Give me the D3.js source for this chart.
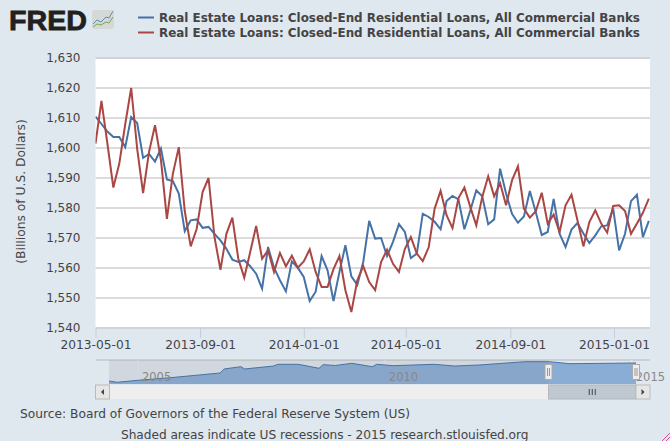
<!DOCTYPE html>
<html>

<head>
    <meta charset="utf-8">
    <style>
        body { margin: 0; background: #dfe7ef; }
        svg { display: block; }
        text { font-family: "DejaVu Sans", sans-serif; fill: #444; }
    </style>
</head>

<body>
    <svg id="container" width="670" height="441">
        <g id="logo"></g>
        <g id="legend"></g>
        <g id="plot"></g>
        <g id="yAxis"></g>
        <g id="xAxis"></g>
        <g id="navigator"></g>
        <g id="notes"></g>
    </svg>
</body>
<script src="https://cdn.jsdelivr.net/npm/d3@7"></script>
<script>
    const seriesName = "Real Estate Loans: Closed-End Residential Loans, All Commercial Banks"

    const blueValues = [
        1610.5, 1608, 1605.5, 1603.7, 1603.7, 1600.3, 1610.3, 1608.3, 1596.7, 1598,
        1595.5, 1599.8, 1589.5, 1589, 1584.8, 1572.3, 1575.9, 1576.2, 1573.4, 1573.7,
        1571.4, 1569.2, 1566.4, 1562.8, 1562, 1562.6, 1560.6, 1558.1, 1553.1, 1567,
        1560.1, 1555.9, 1552.2, 1562.2, 1560.1, 1557, 1549, 1552.1, 1564, 1559.2,
        1549, 1558.7, 1567.6, 1557.2, 1554.4, 1562, 1575.7, 1569.8, 1570, 1564,
        1568.7, 1574.6, 1572, 1563.3, 1564.8, 1578.1, 1577, 1575.4, 1572.9, 1582.3,
        1584, 1582.9, 1572.9, 1579.2, 1585.9, 1583.9, 1574.6, 1576.2, 1593.1, 1584.8,
        1578.1, 1575.1, 1577.2, 1585.7, 1578.6, 1571, 1572, 1583, 1571.4, 1567,
        1572.8, 1575, 1571.5, 1568.3, 1570.9, 1573.9, 1574.2, 1579.8, 1565.9, 1571.4,
        1582.3, 1584.4, 1570.3, 1575.7
    ]
    const redValues = [
        1601.5, 1615.7, 1601.5, 1586.8, 1594.8, 1608, 1620, 1599.8, 1585, 1598.7,
        1607.6, 1596, 1576.4, 1591.4, 1600.3, 1579, 1567.2, 1573, 1585.3, 1590,
        1570.3, 1559.4, 1571.4, 1576.8, 1563.1, 1556.8, 1565.3, 1574, 1563.1, 1565.9,
        1558.7, 1565, 1560.6, 1564.1, 1560.1, 1562.2, 1566.2, 1558.7, 1553.7, 1553.7,
        1559.6, 1564, 1552.6, 1545.3, 1555.9, 1560.6, 1555.3, 1552.6, 1562, 1566.1,
        1561.4, 1558.7, 1566.4, 1570.3, 1564.8, 1562.3, 1566.9, 1579.8, 1585.7, 1577.6,
        1573.3, 1583.3, 1586.8, 1580.3, 1574.2, 1583.7, 1590.6, 1583.9, 1588.3, 1580.9,
        1589.2, 1593.9, 1579.8, 1576.8, 1578.9, 1585.1, 1574.8, 1577.8, 1572, 1580.9,
        1584.4, 1575.9, 1567.2, 1575.3, 1579.2, 1574.8, 1571.8, 1580.7, 1580.9, 1579,
        1571.4, 1574.8, 1578.4, 1583.1
    ]

    const yTicks = [1540, 1550, 1560, 1570, 1580, 1590, 1600, 1610, 1620, 1630]
    const xTicks = ["2013-05-01", "2013-09-01", "2014-01-01", "2014-05-01", "2014-09-01", "2015-01-01"]

    // whole history shown in the navigator under the chart
    const navDates = [
        "2004-06", "2004-08", "2005-01", "2005-09", "2006-04", "2006-09", "2006-10", "2007-02", "2007-03",
        "2007-10", "2007-11", "2008-04", "2008-09", "2008-10", "2009-01", "2009-05", "2009-10", "2009-11",
        "2010-03", "2011-01", "2011-06", "2011-12", "2012-11", "2013-05", "2013-10", "2015-02"
    ]
    const navValues = [
        1127, 1095, 1145, 1210, 1278, 1328, 1428, 1485, 1428,
        1502, 1545, 1545, 1445, 1535, 1515, 1570, 1485, 1545,
        1510, 1545, 1502, 1528, 1610, 1610, 1560, 1578
    ]
    const navYears = ["2005", "2010", "2015"]

    const notes = [
        "Source: Board of Governors of the Federal Reserve System (US)",
        "Shaded areas indicate US recessions - 2015 research.stlouisfed.org"
    ]

    const parseDay = d3.utcParse("%Y-%m-%d")
    const parseMonth = d3.utcParse("%Y-%m")
    const firstDate = parseDay(xTicks[0])
    const weeks = blueValues.map((d, i) => d3.utcDay.offset(firstDate, i * 7))

    const plotLeft = 95.5, plotRight = 650, plotTop = 58, plotBottom = 328

    let x = d3.scaleTime()
        .domain([firstDate, weeks[weeks.length - 1]])
        .range([plotLeft, plotLeft + 5.95 * (weeks.length - 1)])
    let y = d3.scaleLinear().domain([1540, 1630]).range([plotBottom, plotTop])

    let svg = d3.select("#container")
    svg.append("defs").append("clipPath").attr("id", "plotClip")
        .append("rect")
        .attr("x", plotLeft).attr("y", plotTop - 2)
        .attr("width", plotRight - plotLeft).attr("height", plotBottom - plotTop + 4)

    // plot area
    let plot = d3.select("#plot")
    plot.append("rect")
        .attr("x", plotLeft).attr("y", plotTop)
        .attr("width", plotRight - plotLeft).attr("height", plotBottom - plotTop)
        .attr("fill", "#fff")

    plot.selectAll("line.grid")
        .data(yTicks)
        .enter()
        .append("line")
        .attr("class", "grid")
        .attr("x1", plotLeft).attr("x2", plotRight)
        .attr("y1", d => y(d)).attr("y2", d => y(d))
        .attr("stroke", d => (d == 1540 || d == 1630) ? "#d0d3d8" : "#dcdcdc")
        .attr("stroke-width", 2)

    let line = d3.line()
        .x((d, i) => x(weeks[i]))
        .y(d => y(d))

    let lines = plot.append("g").attr("clip-path", "url(#plotClip)")
    lines.append("path").datum(blueValues)
        .attr("d", line).attr("fill", "none")
        .attr("stroke", "#4572a7").attr("stroke-width", 2)
    lines.append("path").datum(redValues)
        .attr("d", line).attr("fill", "none")
        .attr("stroke", "#aa4643").attr("stroke-width", 2)

    // axes
    let yAxis = d3.axisLeft(y)
        .tickValues(yTicks)
        .tickSize(0)
        .tickPadding(15)
        .tickFormat(d3.format(","))
    let yAxisContainer = d3.select("#yAxis")
        .attr("transform", `translate(${plotLeft},0)`)
        .call(yAxis)
    yAxisContainer.select(".domain").remove()
    yAxisContainer.selectAll(".tick text").style("font-size", "12px").attr("dy", "0.33em")

    yAxisContainer.append("text")
        .text("(Billions of U.S. Dollars)")
        .attr("transform", "translate(-70.5,191.5) rotate(-90)")
        .attr("text-anchor", "middle")
        .style("font-size", "12.3px")

    let xAxis = d3.axisBottom(x)
        .tickValues(xTicks.map(parseDay))
        .tickSize(10)
        .tickPadding(2)
        .tickFormat(d3.utcFormat("%Y-%m-%d"))
    let xAxisContainer = d3.select("#xAxis")
        .attr("transform", `translate(0,${plotBottom})`)
        .call(xAxis)
    xAxisContainer.select(".domain").remove()
    xAxisContainer.selectAll("line").attr("stroke", "#c0d0e0")
    xAxisContainer.selectAll("text").style("font-size", "12.2px")

    // legend
    let legend = d3.select("#legend")
    legend.selectAll("g")
        .data(["#4572a7", "#aa4643"])
        .enter()
        .append("g")
        .attr("transform", (d, i) => `translate(138,${17.5 + i * 15})`)
        .each(function (d) {
            let g = d3.select(this)
            g.append("line").attr("x1", 0).attr("x2", 16)
                .attr("stroke", d).attr("stroke-width", 2)
            g.append("text").text(seriesName)
                .attr("x", 21).attr("y", 4.5)
                .style("font-size", "11.93px")
                .style("font-weight", "bold")
        })

    // navigator
    let nav = d3.select("#navigator")
    const navLeft = 109, navRight = 636, navTop = 360, navBottom = 384
    let navX = d3.scaleTime()
        .domain([parseMonth(navDates[0]), parseMonth(navDates[navDates.length - 1])])
        .range([navLeft, navRight])
    let navY = d3.scaleLinear().domain([1052, 1610]).range([navBottom, 361.7])
    const selStart = x(firstDate) + 453

    nav.append("line")
        .attr("x1", plotLeft).attr("x2", plotRight)
        .attr("y1", navTop).attr("y2", navTop)
        .attr("stroke", "#ccd0d5").attr("stroke-width", 2)

    nav.selectAll("line.year")
        .data(navYears)
        .enter()
        .append("line")
        .attr("class", "year")
        .attr("x1", d => navX(d3.utcParse("%Y")(d)))
        .attr("x2", d => navX(d3.utcParse("%Y")(d)))
        .attr("y1", navTop).attr("y2", navBottom)
        .attr("stroke", "#e6edf3")

    let navArea = d3.area()
        .x((d, i) => navX(parseMonth(navDates[i])))
        .y0(navBottom)
        .y1(d => navY(d))
    let navLine = d3.line()
        .x((d, i) => navX(parseMonth(navDates[i])))
        .y(d => navY(d))

    nav.append("path").datum(navValues).attr("d", navArea).attr("fill", "#8aadd6")
    // the part outside the selected range is dimmed
    nav.append("rect")
        .attr("x", navLeft).attr("y", navTop)
        .attr("width", selStart - navLeft).attr("height", navBottom - navTop)
        .attr("fill", "#808080").attr("fill-opacity", 0.15)
    nav.append("path").datum(navValues).attr("d", navLine)
        .attr("fill", "none").attr("stroke", "#4572a7").attr("stroke-width", 1)

    nav.selectAll("text.year")
        .data(navYears)
        .enter()
        .append("text")
        .attr("class", "year")
        .text(d => d)
        .attr("x", d => navX(d3.utcParse("%Y")(d)) + 4)
        .attr("y", 381)
        .style("font-size", "11.5px")
        .style("fill", "#888")

    // scrollbar
    nav.append("rect").attr("x", navLeft).attr("y", 385).attr("width", navRight - navLeft).attr("height", 14).attr("fill", "#eee")
    nav.append("rect").attr("x", selStart).attr("y", 385).attr("width", navRight - selStart).attr("height", 14)
        .attr("fill", "#bfc8d1").attr("stroke", "#b4b8be")
    nav.selectAll("rect.btn")
        .data([plotLeft, navRight])
        .enter()
        .append("rect")
        .attr("class", "btn")
        .attr("x", d => d).attr("y", 385)
        .attr("width", 14).attr("height", 14)
        .attr("fill", "#e6e6e6").attr("stroke", "#bbb")
    nav.selectAll("path.arrow")
        .data([[plotLeft + 8.5, -1], [navRight + 5.5, 1]])
        .enter()
        .append("path")
        .attr("class", "arrow")
        .attr("d", d => `M${d[0]},389 L${d[0] + d[1] * 3},392 L${d[0]},395 Z`)
        .attr("fill", "#444")
    // thumb grip and range handles
    nav.selectAll("line.grip")
        .data([-3, 0, 3])
        .enter()
        .append("line")
        .attr("class", "grip")
        .attr("x1", d => (selStart + navRight) / 2 + d).attr("x2", d => (selStart + navRight) / 2 + d)
        .attr("y1", 389).attr("y2", 395)
        .attr("stroke", "#444")
    nav.selectAll("g.handle")
        .data([selStart, navRight])
        .enter()
        .append("g")
        .attr("class", "handle")
        .attr("transform", d => `translate(${d},0)`)
        .each(function () {
            let g = d3.select(this)
            g.append("rect").attr("x", -3.5).attr("y", 364.5).attr("width", 7).attr("height", 15)
                .attr("fill", "#eee").attr("stroke", "#aaa")
            g.selectAll("line").data([-1, 1]).enter().append("line")
                .attr("x1", d => d).attr("x2", d => d)
                .attr("y1", 368).attr("y2", 376)
                .attr("stroke", "#999")
        })

    // notes under the chart
    d3.select("#notes").selectAll("text")
        .data(notes)
        .enter()
        .append("text")
        .text(d => d)
        .attr("x", (d, i) => i == 0 ? 20 : 121)
        .attr("y", (d, i) => i == 0 ? 418 : 439)
        .attr("textLength", (d, i) => i == 0 ? 390 : 407.5)
        .style("font-size", "12.2px")

    // resize grip in the corner of the page
    svg.selectAll("line.corner")
        .data([4, 8])
        .enter()
        .append("line")
        .attr("class", "corner")
        .attr("x1", d => 670 - d).attr("y1", 441)
        .attr("x2", 670).attr("y2", d => 441 - d)
        .attr("stroke", "#d84fa0")

    // logo
    let logo = d3.select("#logo")
    logo.append("text")
        .text("FRED")
        .attr("x", 9).attr("y", 30)
        .attr("textLength", 78)
        .attr("lengthAdjust", "spacingAndGlyphs")
        .style("font-family", "'Liberation Sans', sans-serif")
        .style("font-weight", "bold")
        .style("font-size", "28px")
        .style("fill", "#231f20")
        .style("stroke", "#231f20")
        .style("stroke-width", 0.8)
    logo.append("rect")
        .attr("x", 92).attr("y", 10).attr("width", 22).attr("height", 19).attr("rx", 3)
        .attr("fill", "#d4d8d6")
    logo.selectAll("path")
        .data([["#5f8fb4", "M93,24 L97,20 L101,22 L106,17 L109,18 L113,11"], ["#7fa650", "M93,27 L97,24 L101,25 L106,22 L109,23 L113,17"]])
        .enter()
        .append("path")
        .attr("d", d => d[1])
        .attr("fill", "none")
        .attr("stroke", d => d[0])
</script>

</html>
